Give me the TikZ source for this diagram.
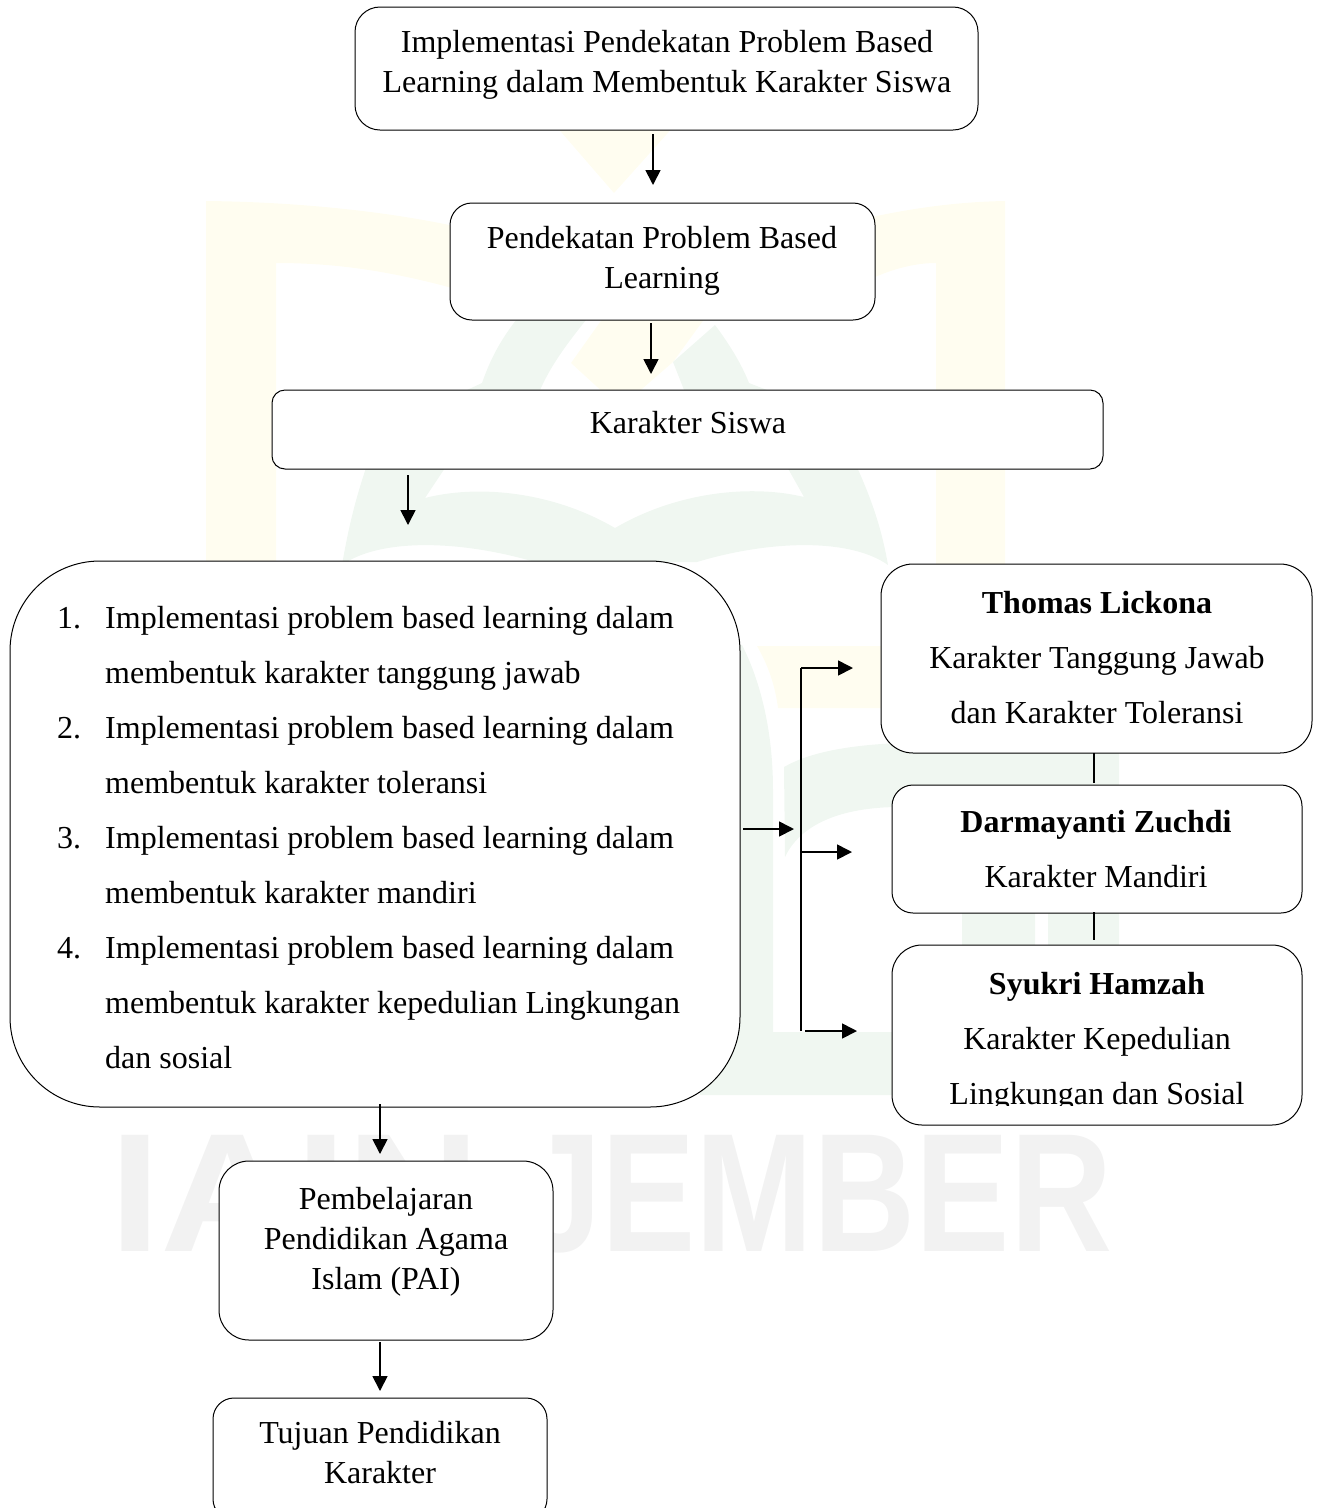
\documentclass[tikz,border=0pt]{standalone}
\usepackage{fontspec}
\usepackage{graphicx}
\setmainfont{Liberation Serif}
\newfontfamily\wmfont{Liberation Sans}
\usetikzlibrary{arrows.meta}
\definecolor{wmy}{HTML}{FFFDF0}
\definecolor{wmg}{HTML}{F0F7F1}
\definecolor{wmt}{HTML}{F2F2F2}
\tikzset{
  x=1pt,y=-1pt,
  box/.style={draw=black,line width=1pt,fill=white,inner sep=0pt,outer sep=0pt},
  txt/.style={inner sep=0pt,align=center,font=\fontsize{32pt}{40pt}\selectfont},
  txtw/.style={inner sep=0pt,align=center,font=\fontsize{32pt}{55pt}\selectfont},
  arr/.style={line width=1.7pt,-{Triangle[length=15pt,width=15pt]}},
  lin/.style={line width=1.7pt},
}
\begin{document}
\begin{tikzpicture}
\path[use as bounding box] (0,0) rectangle (1317,1508);
% watermark
\fill[wmy] (206,201) .. controls (300,202) and (400,212) .. (480,232) -- (480,296) .. controls (400,272) and (340,263) .. (276,263) -- (276,600) -- (206,600) -- cycle;
\fill[wmy] (1005,201) .. controls (950,202) and (900,210) .. (850,222) -- (850,290) .. controls (880,272) and (910,263) .. (936,263) -- (936,600) -- (1005,600) -- cycle;
\fill[wmy] (555,125) -- (614,193) -- (675,125) -- cycle;
\fill[wmy] (571,363) -- (603,318) -- (705,318) -- (673,362) -- (635,395) -- (606,395) -- cycle;
\fill[wmy] (757,646) -- (890,646) -- (890,708) -- (778,708) .. controls (775,685) and (768,665) .. (757,646) -- cycle;
\fill[wmg] (467,395) -- (467,390) -- (482,383) .. controls (490,360) and (500,340) .. (520,315) -- (590,315) .. controls (570,340) and (550,365) .. (538,395) -- cycle;
\fill[wmg] (686,395) -- (673,362) -- (715,325) .. controls (730,345) and (742,365) .. (749,383) -- (767,390) -- (767,395) -- cycle;
\fill[wmg] (342,565) .. controls (348,530) and (355,500) .. (367,465) -- (447,465) -- (425,498)
  .. controls (475,485) and (550,490) .. (615,528)
  .. controls (680,490) and (755,485) .. (804,497) -- (786,465) -- (856,465)
  .. controls (872,500) and (882,530) .. (888,565)
  .. controls (850,538) and (770,540) .. (697,562) -- (535,562)
  .. controls (460,540) and (380,538) .. (342,565) -- cycle;
\fill[wmg] (742,645) .. controls (760,680) and (773,730) .. (773,790) -- (773,1032) -- (900,1032) -- (900,1095) -- (700,1095) -- (700,645) -- cycle;
\fill[wmg] (784,767) .. controls (810,752) and (850,745) .. (900,743) -- (1119,743) -- (1119,1000) -- (1048,1000) -- (1048,810) -- (1035,810) -- (1035,1000) -- (962,1000) -- (962,810) -- (900,807) .. controls (840,807) and (800,825) .. (785,857) -- cycle;
\node[inner sep=0pt,text=wmt,anchor=west,font=\wmfont\bfseries\fontsize{169pt}{169pt}\selectfont] (wm) at (109,1194) {\scalebox{1.1}[1]{IAIN}\hspace{42pt}\scalebox{.837}[1]{JEMBER}};
% boxes
\node[box,rounded corners=25pt,minimum width=623pt,minimum height=123pt] (b1) at (666.5,68.5) {};
\node[box,rounded corners=22pt,minimum width=425pt,minimum height=117pt] (b2) at (662.5,261.5) {};
\node[box,rounded corners=13pt,minimum width=831pt,minimum height=79pt] (b3) at (687.5,429.5) {};
\node[box,rounded corners=90pt,minimum width=730pt,minimum height=546pt] (b4) at (375,834) {};
\node[box,rounded corners=32pt,minimum width=431pt,minimum height=189pt] (b5) at (1096.5,658.5) {};
\node[box,rounded corners=21pt,minimum width=410pt,minimum height=128pt] (b6) at (1097,849) {};
\node[box,rounded corners=30pt,minimum width=410pt,minimum height=180pt] (b7) at (1097,1035) {};
\node[box,rounded corners=30pt,minimum width=334pt,minimum height=179pt] (b8) at (386,1250.5) {};
\node[box,rounded corners=21pt,minimum width=334pt,minimum height=122pt] (b9) at (380,1459) {};
% texts
\node[txt] (t1) at (667,65) {Implementasi Pendekatan Problem Based\\Learning dalam Membentuk Karakter Siswa};
\node[txt] (t2) at (662,261) {Pendekatan Problem Based\\Learning};
\node[txt] (t3) at (688,423) {Karakter Siswa};
\node[txtw,align=left,anchor=west] (t4) at (57,838) {\makebox[48pt][l]{1.}Implementasi problem based learning dalam\\\hspace*{48pt}membentuk karakter tanggung jawab\\\makebox[48pt][l]{2.}Implementasi problem based learning dalam\\\hspace*{48pt}membentuk karakter toleransi\\\makebox[48pt][l]{3.}Implementasi problem based learning dalam\\\hspace*{48pt}membentuk karakter mandiri\\\makebox[48pt][l]{4.}Implementasi problem based learning dalam\\\hspace*{48pt}membentuk karakter kepedulian Lingkungan\\\hspace*{48pt}dan sosial};
\node[txtw] (t5) at (1097,658) {\textbf{Thomas Lickona}\\Karakter Tanggung Jawab\\dan Karakter Toleransi};
\node[txtw] (t6) at (1096,849) {\textbf{Darmayanti Zuchdi}\\Karakter Mandiri};
\begin{scope}
\clip (892,945) rectangle (1302,1105);
\node[txtw] (t7) at (1097,1042) {\textbf{Syukri Hamzah}\\Karakter Kepedulian\\Lingkungan dan Sosial};
\end{scope}
\node[txt] (t8) at (386,1242) {Pembelajaran\\Pendidikan Agama\\Islam (PAI)};
\node[txt] (t9) at (380,1453) {Tujuan Pendidikan\\Karakter};
% connectors
\coordinate (xa) at (653,0);
\coordinate (xb) at (651,0);
\coordinate (xc) at (408,0);
\coordinate (xd) at (380,0);
\coordinate (xe) at (1094,0);
\coordinate (bustop) at (801,668);
\coordinate (busmid) at (801,852);
\coordinate (busbot) at (801,1031);
\coordinate (busin) at (801,829);
\coordinate (h1) at (853,668);
\coordinate (h2) at (852,852);
\coordinate (s3) at (805,1031);
\coordinate (h3) at (857,1031);
\draw[arr,shorten <=4pt,shorten >=18pt] (b1.south -| xa) -- (b2.north -| xa);
\draw[arr,shorten <=3pt,shorten >=16pt] (b2.south -| xb) -- (b3.north -| xb);
\draw[arr,shorten <=6pt,shorten >=36pt] (b3.south -| xc) -- (b4.north -| xc);
\draw[arr,shorten <=-3pt,shorten >=7pt] (b4.south -| xd) -- (b8.north -| xd);
\draw[arr,shorten <=2pt,shorten >=7pt] (b8.south -| xd) -- (b9.north -| xd);
\draw[arr,shorten <=3pt,shorten >=7pt] (b4.east |- busin) -- (busin);
\draw[lin] (busbot) -- (bustop);
\draw[arr] (bustop) -- (h1);
\draw[arr] (busmid) -- (h2);
\draw[arr] (s3) -- (h3);
\draw[lin,shorten >=2pt] (b5.south -| xe) -- (b6.north -| xe);
\draw[lin,shorten <=-1pt,shorten >=5pt] (b6.south -| xe) -- (b7.north -| xe);
\end{tikzpicture}
\end{document}
